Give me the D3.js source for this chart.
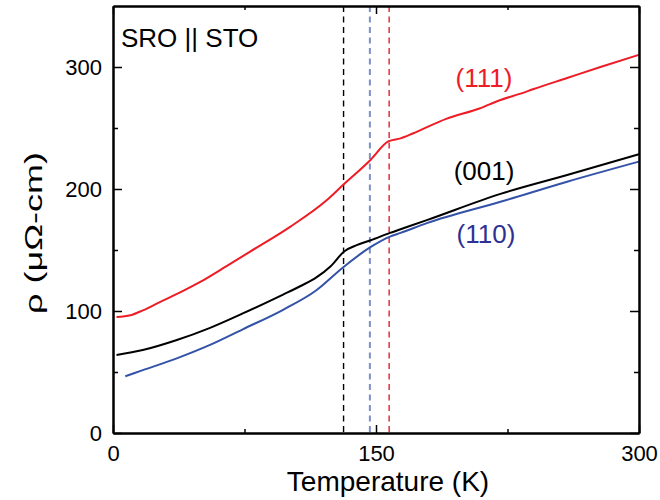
<!DOCTYPE html>
<html>
<head>
<meta charset="utf-8">
<script src="https://cdn.jsdelivr.net/npm/d3@7"></script>
<style>
	body { margin:0; background:#fff; }
	text { font-family: 'Liberation Sans', Arial, sans-serif; }
</style>
</head>
<body>
<svg id="chart" width="660" height="500"></svg>
<script>

//data
var t111 = [2, 10, 17, 27, 38, 50, 65, 78, 101, 122, 131, 147, 157, 164, 171, 190, 209, 221, 232, 240, 259, 278, 300];
var r111 = [95, 96.5, 100.5, 107.5, 115, 124, 137, 148.5, 169, 191, 203, 224, 239, 241.5, 245.5, 257.5, 266, 273, 278, 282, 291, 300, 310];

var t001 = [2, 17, 36, 55, 74, 97, 107, 116, 124, 132, 139, 147, 158, 164, 179, 221, 259, 300];
var r001 = [64, 68, 76, 86, 98, 113.5, 120.5, 127.5, 136.5, 149, 154, 158, 164, 167, 174.5, 196, 211.5, 228.5];

var t110 = [7, 17, 36, 55, 74, 97, 116, 131, 147, 158, 164, 179, 221, 259, 300];
var r110 = [46.5, 51.5, 61, 72, 85, 101, 117, 135.5, 152.5, 161, 164, 172, 189.5, 206, 222.5];

//transition temperatures (dashed lines)
var tcNames = ['(001)', '(110)', '(111)'];
var tcValues = [131.5, 146.5, 157.5];

var xTicks = [0, 150, 300];
var xMinor = [75, 225];
var yTicks = [0, 100, 200, 300];
var yMinor = [50, 150, 250];

var series = [
	{name:'(001)', t:t001, r:r001, col:'#000000', labCol:'#000000'},
	{name:'(110)', t:t110, r:r110, col:'#3352a8', labCol:'#2e3192'},
	{name:'(111)', t:t111, r:r111, col:'#ee1c25', labCol:'#ee1c25'}
];
var dashCols = ['#000000', '#7b8fc8', '#e0202a'];

var plotL = 113, plotR = 639, plotT = 6, plotB = 433;

var x = d3.scaleLinear().domain([0, 300]).range([plotL, plotR]);
var y = d3.scaleLinear().domain([0, 350]).range([plotB, plotT]);

var svg = d3.select('#chart');

//dashed Tc lines
svg.selectAll('.tc').data(tcValues)
	.enter()
	.append('line')
	.attr('class', 'tc')
	.attr('x1', function(d){ return x(d) })
	.attr('x2', function(d){ return x(d) })
	.attr('y1', y(350))
	.attr('y2', y(0))
	.attr('stroke', function(d, i){ return dashCols[i] })
	.attr('stroke-width', function(d, i){ return i == 1 ? 2 : 1.4 })
	.attr('stroke-dasharray', '6,4.5');

//curves
var line = d3.line()
	.x(function(d){ return x(d[0]) })
	.y(function(d){ return y(d[1]) })
	.curve(d3.curveMonotoneX);

svg.selectAll('.curve').data(series)
	.enter()
	.append('path')
	.attr('class', 'curve')
	.attr('fill', 'none')
	.attr('stroke', function(d){ return d.col })
	.attr('stroke-width', 2)
	.attr('d', function(d){ return line(d.t.map(function(v, i){ return [v, d.r[i]] })) });

//axes, ticks pointing inward
function styleAxis(g){
	g.select('.domain').attr('stroke', '#000').attr('stroke-width', 2);
	g.selectAll('.tick line').attr('stroke', '#000').attr('stroke-width', 1.5);
	g.selectAll('text').style('font-size', '22px').attr('fill', '#000');
}

svg.append('g')
	.attr('transform', 'translate(0,' + plotB + ')')
	.call(d3.axisBottom(x).tickValues(xTicks).tickSizeInner(-8).tickSizeOuter(0).tickPadding(12).tickFormat(d3.format('d')))
	.call(styleAxis);
svg.append('g')
	.attr('transform', 'translate(0,' + plotB + ')')
	.call(d3.axisBottom(x).tickValues(xMinor).tickSizeInner(-4).tickSizeOuter(0).tickFormat(''))
	.call(styleAxis);

svg.append('g')
	.attr('transform', 'translate(0,' + plotT + ')')
	.call(d3.axisTop(x).tickValues(xTicks).tickSizeInner(-8).tickSizeOuter(0).tickFormat(''))
	.call(styleAxis);
svg.append('g')
	.attr('transform', 'translate(0,' + plotT + ')')
	.call(d3.axisTop(x).tickValues(xMinor).tickSizeInner(-4).tickSizeOuter(0).tickFormat(''))
	.call(styleAxis);

svg.append('g')
	.attr('transform', 'translate(' + plotL + ',0)')
	.call(d3.axisLeft(y).tickValues(yTicks).tickSizeInner(-9).tickSizeOuter(0).tickPadding(11).tickFormat(d3.format('d')))
	.call(styleAxis);
svg.append('g')
	.attr('transform', 'translate(' + plotL + ',0)')
	.call(d3.axisLeft(y).tickValues(yMinor).tickSizeInner(-5).tickSizeOuter(0).tickFormat(''))
	.call(styleAxis);

svg.append('g')
	.attr('transform', 'translate(' + plotR + ',0)')
	.call(d3.axisRight(y).tickValues(yTicks).tickSizeInner(-9).tickSizeOuter(0).tickFormat(''))
	.call(styleAxis);
svg.append('g')
	.attr('transform', 'translate(' + plotR + ',0)')
	.call(d3.axisRight(y).tickValues(yMinor).tickSizeInner(-5).tickSizeOuter(0).tickFormat(''))
	.call(styleAxis);

//series labels
var labPos = {'(111)':[484, 87], '(001)':[484, 180], '(110)':[486, 243]};

svg.selectAll('.lab').data(series)
	.enter()
	.append('text')
	.attr('class', 'lab')
	.attr('x', function(d){ return labPos[d.name][0] })
	.attr('y', function(d){ return labPos[d.name][1] })
	.attr('text-anchor', 'middle')
	.attr('fill', function(d){ return d.labCol })
	.style('font-size', '26px')
	.text(function(d){ return d.name });

svg.append('text')
	.attr('x', 121)
	.attr('y', 47)
	.style('font-size', '26px')
	.text('SRO || STO');

//axis titles
svg.append('text')
	.attr('x', 388)
	.attr('y', 491)
	.attr('text-anchor', 'middle')
	.style('font-size', '28px')
	.text('Temperature (K)');

svg.append('text')
	.attr('transform', 'translate(42,233) rotate(-90) scale(1.5,1)')
	.attr('text-anchor', 'middle')
	.style('font-size', '24px')
	.text('ρ (μΩ-cm)');

</script>
</body>
</html>
